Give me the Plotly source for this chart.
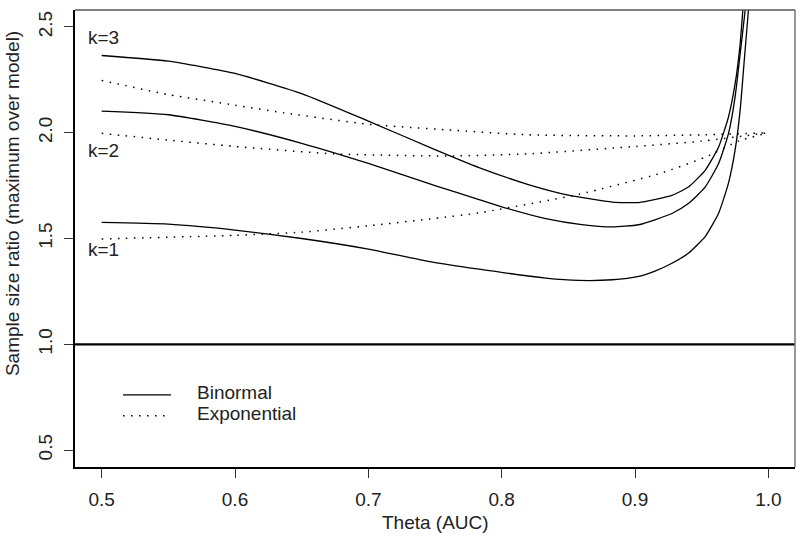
import plotly.graph_objects as go

# ---- data ----
bin_k1_x = [0.50, 0.55, 0.60, 0.65, 0.70, 0.746, 0.783, 0.833, 0.858, 0.883, 0.9027, 0.915, 0.9277, 0.940, 0.9526, 0.9626, 0.970, 0.975, 0.9788, 0.9825, 0.985, 0.986]
bin_k1_y = [1.576, 1.568, 1.54, 1.50, 1.45, 1.391, 1.355, 1.313, 1.302, 1.305, 1.321, 1.346, 1.383, 1.430, 1.509, 1.618, 1.759, 1.915, 2.103, 2.385, 2.573, 2.68]

bin_k2_x = [0.50, 0.55, 0.60, 0.65, 0.70, 0.75, 0.783, 0.80, 0.833, 0.86, 0.883, 0.9027, 0.9277, 0.940, 0.9526, 0.9626, 0.970, 0.975, 0.9788, 0.9825, 0.984]
bin_k2_y = [2.102, 2.085, 2.03, 1.95, 1.855, 1.75, 1.684, 1.65, 1.594, 1.566, 1.555, 1.565, 1.618, 1.665, 1.743, 1.853, 1.993, 2.166, 2.369, 2.573, 2.68]

bin_k3_x = [0.50, 0.55, 0.60, 0.65, 0.70, 0.75, 0.783, 0.82, 0.85, 0.883, 0.9027, 0.9277, 0.940, 0.9526, 0.9626, 0.970, 0.975, 0.9788, 0.9808, 0.982]
bin_k3_y = [2.365, 2.338, 2.28, 2.185, 2.055, 1.92, 1.835, 1.755, 1.705, 1.672, 1.670, 1.704, 1.743, 1.822, 1.931, 2.072, 2.228, 2.416, 2.573, 2.68]

exp_k1_x = [0.50, 0.60, 0.65, 0.70, 0.75, 0.783, 0.858, 0.918, 0.9526, 0.9775, 1.00]
exp_k1_y = [1.498, 1.515, 1.53, 1.56, 1.595, 1.621, 1.709, 1.806, 1.884, 1.96, 2.00]

exp_k2_x = [0.50, 0.55, 0.60, 0.674, 0.76, 0.82, 0.90, 0.95, 1.00]
exp_k2_y = [1.997, 1.965, 1.935, 1.90, 1.89, 1.90, 1.935, 1.96, 2.00]

exp_k3_x = [0.50, 0.55, 0.60, 0.641, 0.70, 0.76, 0.82, 0.90, 0.95, 1.00]
exp_k3_y = [2.247, 2.18, 2.13, 2.09, 2.04, 2.013, 1.99, 1.985, 1.99, 2.00]

k_labels = ["k=3", "k=2", "k=1"]
k_label_y = [2.45, 1.915, 1.45]
k_label_x = 0.488

legend_names = ["Binormal", "Exponential"]

x_ticks = [0.5, 0.6, 0.7, 0.8, 0.9, 1.0]
y_ticks = [0.5, 1.0, 1.5, 2.0, 2.5]

FONT = "Liberation Sans, Arial, sans-serif"
TXT = "#222222"
FS = 19
DOTS = "1.5px,6.5px"
SOLID = dict(color="black", width=1.3, shape="spline", smoothing=0.5)
DOTTED = dict(color="black", width=1.5, dash=DOTS, shape="spline", smoothing=0.5)

fig = go.Figure()

for xs, ys in [(bin_k1_x, bin_k1_y), (bin_k2_x, bin_k2_y), (bin_k3_x, bin_k3_y)]:
    fig.add_trace(go.Scatter(x=xs, y=ys, mode="lines", line=SOLID, name=legend_names[0],
                             showlegend=False, hoverinfo="skip"))

for xs, ys in [(exp_k1_x, exp_k1_y), (exp_k2_x, exp_k2_y), (exp_k3_x, exp_k3_y)]:
    fig.add_trace(go.Scatter(x=xs, y=ys, mode="lines", line=DOTTED, name=legend_names[1],
                             showlegend=False, hoverinfo="skip"))

for lab, ly in zip(k_labels, k_label_y):
    fig.add_annotation(x=k_label_x, y=ly, text=lab, showarrow=False, xanchor="left", yanchor="middle",
                       font=dict(family=FONT, size=FS, color=TXT))

# reference line at 1.0
fig.add_shape(type="line", xref="paper", x0=0, x1=1, yref="y", y0=1.0, y1=1.0,
              line=dict(color="black", width=2.2))
# top and right box edges
fig.add_shape(type="line", xref="paper", yref="paper", x0=0, x1=1, y0=1, y1=1, line=dict(color="#555", width=1.5))
fig.add_shape(type="line", xref="paper", yref="paper", x0=1, x1=1, y0=0, y1=1, line=dict(color="#777", width=1.5))

# legend (drawn by hand, R style)
leg_y = [0.158, 0.112]
leg_dash = ["solid", DOTS]
for name, ly, dsh in zip(legend_names, leg_y, leg_dash):
    fig.add_shape(type="line", xref="paper", yref="paper", x0=0.0667, x1=0.1333, y0=ly, y1=ly,
                  line=dict(color="black", width=1.3 if dsh == "solid" else 1.5, dash=dsh))
    fig.add_annotation(xref="paper", yref="paper", x=0.1667, y=ly + 0.004, text=name, showarrow=False,
                       xanchor="left", yanchor="middle", font=dict(family=FONT, size=FS, color=TXT))

# axis titles
fig.add_annotation(xref="paper", yref="paper", x=0.5, y=-0.122, text="Theta (AUC)", showarrow=False,
                   xanchor="center", yanchor="middle", font=dict(family=FONT, size=FS, color=TXT))
fig.add_annotation(xref="paper", yref="paper", x=-0.086, y=0.5755, text="Sample size ratio (maximum over model)",
                   showarrow=False, textangle=-90, xanchor="center", yanchor="middle",
                   font=dict(family=FONT, size=FS, color=TXT))

fig.update_layout(
    width=800, height=545,
    margin=dict(l=75, r=5, t=10, b=78, autoexpand=False),
    paper_bgcolor="white", plot_bgcolor="white",
    font=dict(family=FONT, size=FS, color=TXT),
    showlegend=False,
    xaxis=dict(range=[0.48, 1.02], tickvals=x_ticks, ticktext=[f"{v:.1f}" for v in x_ticks],
               showgrid=False, zeroline=False, showline=True, linecolor="black", linewidth=2,
               ticks="outside", ticklen=9, tickcolor="#333", tickwidth=1, ticklabelstandoff=5,
               automargin=False, tickfont=dict(family=FONT, size=FS, color=TXT)),
    yaxis=dict(range=[0.42, 2.58], tickvals=y_ticks, ticktext=[f"{v:.1f}" for v in y_ticks],
               showgrid=False, zeroline=False, showline=True, linecolor="black", linewidth=2,
               ticks="outside", ticklen=9, tickcolor="#333", tickwidth=1, tickangle=-90,
               ticklabelstandoff=4, automargin=False, tickfont=dict(family=FONT, size=FS, color=TXT)),
)

# remove the default 8px page margin so the 800x545 figure fills the window exactly
fig.write_html("out.html", config={"displayModeBar": False},
               post_script="document.body.style.margin='0px';")
